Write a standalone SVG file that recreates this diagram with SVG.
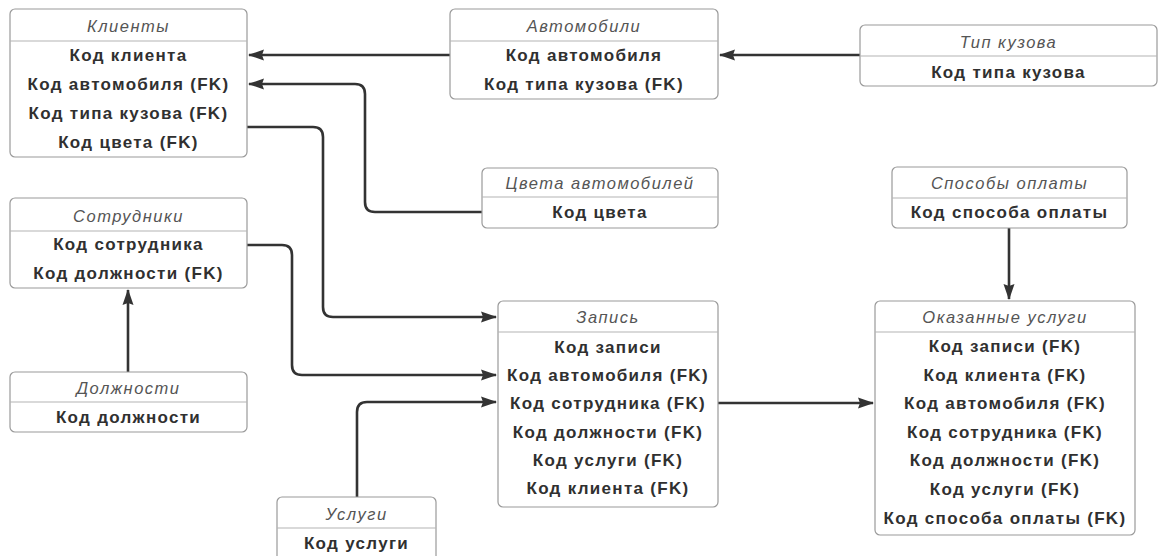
<svg xmlns="http://www.w3.org/2000/svg" width="1159" height="556" viewBox="0 0 1159 556">
  <style>
    .box { fill: #ffffff; stroke: #9a9a9a; stroke-width: 1.2; }
    .sep { stroke: #b4b4b4; stroke-width: 1.2; }
    .title { font-family: "Liberation Sans", Arial, sans-serif; font-style: italic; font-size: 16.5px; fill: #555555; text-anchor: middle; letter-spacing: 1.5px; }
    .row { font-family: "Liberation Sans", Arial, sans-serif; font-weight: bold; font-size: 17px; fill: #303030; text-anchor: middle; letter-spacing: 1.3px; }
    .link { fill: none; stroke: #333333; stroke-width: 2.6; stroke-linejoin: round; }
  </style>
  <defs>
    <marker id="arrow" viewBox="0 0 16 12" refX="15" refY="6" markerWidth="16" markerHeight="12" markerUnits="userSpaceOnUse" orient="auto">
      <path d="M0,0.5 L16,6 L0,11.5 L2,6 Z" fill="#333333"/>
    </marker>
  </defs>

  <rect width="1159" height="556" fill="#ffffff"/>

  <!-- Connectors -->
  <g id="connectors">
    <path class="link" d="M450,55 L249,55" marker-end="url(#arrow)"/>
    <path class="link" d="M860,55 L720,55" marker-end="url(#arrow)"/>
    <path class="link" d="M482,212 L375,212 Q365,212 365,202 L365,94 Q365,84 355,84 L249,84" marker-end="url(#arrow)"/>
    <path class="link" d="M247,127 L313,127 Q323,127 323,137 L323,307 Q323,317 333,317 L496,317" marker-end="url(#arrow)"/>
    <path class="link" d="M247,245 L282,245 Q292,245 292,255 L292,365 Q292,375 302,375 L496,375" marker-end="url(#arrow)"/>
    <path class="link" d="M357,497 L357,412 Q357,402 367,402 L496,402" marker-end="url(#arrow)"/>
    <path class="link" d="M718,403 L873,403" marker-end="url(#arrow)"/>
    <path class="link" d="M1009,228 L1009,299" marker-end="url(#arrow)"/>
    <path class="link" d="M128,372 L128,290" marker-end="url(#arrow)"/>
  </g>

  <!-- Клиенты -->
  <g id="clients">
    <rect class="box" x="10" y="9" width="237" height="148" rx="5"/>
    <line class="sep" x1="10" y1="41" x2="247" y2="41"/>
    <text class="title" x="128.5" y="32">Клиенты</text>
    <text class="row" x="128.5" y="61">Код клиента</text>
    <text class="row" x="128.5" y="90">Код автомобиля (FK)</text>
    <text class="row" x="128.5" y="119">Код типа кузова (FK)</text>
    <text class="row" x="128.5" y="148">Код цвета (FK)</text>
  </g>

  <!-- Автомобили -->
  <g id="cars">
    <rect class="box" x="450" y="9" width="268" height="90" rx="5"/>
    <line class="sep" x1="450" y1="41" x2="718" y2="41"/>
    <text class="title" x="584" y="32">Автомобили</text>
    <text class="row" x="584" y="61">Код автомобиля</text>
    <text class="row" x="584" y="90">Код типа кузова (FK)</text>
  </g>

  <!-- Тип кузова -->
  <g id="body-type">
    <rect class="box" x="860" y="25" width="297" height="61" rx="5"/>
    <line class="sep" x1="860" y1="56" x2="1157" y2="56"/>
    <text class="title" x="1008.5" y="48">Тип кузова</text>
    <text class="row" x="1008.5" y="78">Код типа кузова</text>
  </g>

  <!-- Цвета автомобилей -->
  <g id="colors">
    <rect class="box" x="482" y="168" width="236" height="60" rx="5"/>
    <line class="sep" x1="482" y1="197" x2="718" y2="197"/>
    <text class="title" x="600" y="189">Цвета автомобилей</text>
    <text class="row" x="600" y="218">Код цвета</text>
  </g>

  <!-- Сотрудники -->
  <g id="employees">
    <rect class="box" x="10" y="198" width="237" height="90" rx="5"/>
    <line class="sep" x1="10" y1="231" x2="247" y2="231"/>
    <text class="title" x="128.5" y="222">Сотрудники</text>
    <text class="row" x="128.5" y="250">Код сотрудника</text>
    <text class="row" x="128.5" y="279">Код должности (FK)</text>
  </g>

  <!-- Должности -->
  <g id="positions">
    <rect class="box" x="10" y="372" width="237" height="60" rx="5"/>
    <line class="sep" x1="10" y1="402" x2="247" y2="402"/>
    <text class="title" x="128.5" y="394">Должности</text>
    <text class="row" x="128.5" y="423">Код должности</text>
  </g>

  <!-- Способы оплаты -->
  <g id="payment-methods">
    <rect class="box" x="892" y="167" width="235" height="61" rx="5"/>
    <line class="sep" x1="892" y1="198" x2="1127" y2="198"/>
    <text class="title" x="1009.5" y="189">Способы оплаты</text>
    <text class="row" x="1009.5" y="218">Код способа оплаты</text>
  </g>

  <!-- Запись -->
  <g id="booking">
    <rect class="box" x="498" y="301" width="220" height="206" rx="5"/>
    <line class="sep" x1="498" y1="332" x2="718" y2="332"/>
    <text class="title" x="608" y="323">Запись</text>
    <text class="row" x="608" y="353">Код записи</text>
    <text class="row" x="608" y="381">Код автомобиля (FK)</text>
    <text class="row" x="608" y="409">Код сотрудника (FK)</text>
    <text class="row" x="608" y="438">Код должности (FK)</text>
    <text class="row" x="608" y="466">Код услуги (FK)</text>
    <text class="row" x="608" y="494">Код клиента (FK)</text>
  </g>

  <!-- Оказанные услуги -->
  <g id="services-rendered">
    <rect class="box" x="875" y="301" width="260" height="234" rx="5"/>
    <line class="sep" x1="875" y1="332" x2="1135" y2="332"/>
    <text class="title" x="1005" y="323">Оказанные услуги</text>
    <text class="row" x="1005" y="352">Код записи (FK)</text>
    <text class="row" x="1005" y="381">Код клиента (FK)</text>
    <text class="row" x="1005" y="409">Код автомобиля (FK)</text>
    <text class="row" x="1005" y="438">Код сотрудника (FK)</text>
    <text class="row" x="1005" y="466">Код должности (FK)</text>
    <text class="row" x="1005" y="495">Код услуги (FK)</text>
    <text class="row" x="1005" y="524">Код способа оплаты (FK)</text>
  </g>

  <!-- Услуги -->
  <g id="services">
    <rect class="box" x="277" y="497" width="159" height="66" rx="5"/>
    <line class="sep" x1="277" y1="528" x2="436" y2="528"/>
    <text class="title" x="356.5" y="520">Услуги</text>
    <text class="row" x="356.5" y="549">Код услуги</text>
  </g>
</svg>
